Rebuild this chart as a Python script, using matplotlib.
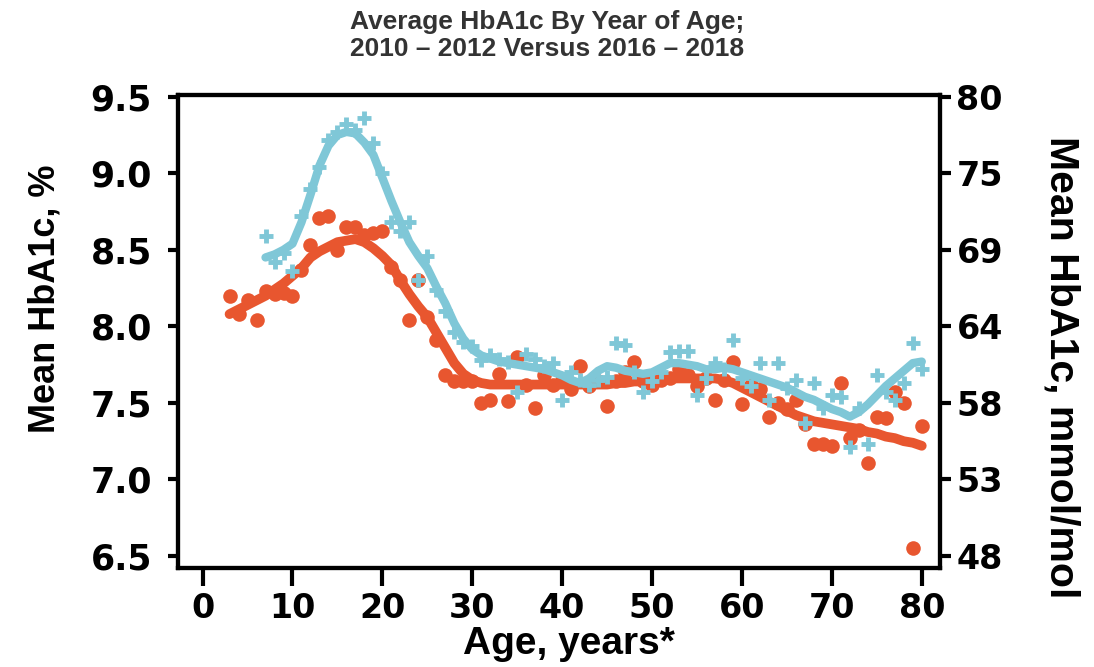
import numpy as np
import matplotlib.pyplot as plt

# Average HbA1c by year of age, two cohorts
red_age = list(range(3, 81))
red_val = [8.20, 8.08, 8.17, 8.04, 8.23, 8.21, 8.22, 8.20, 8.37, 8.53,
           8.71, 8.72, 8.50, 8.65, 8.65, 8.60, 8.61, 8.62, 8.39, 8.30,
           8.04, 8.30, 8.06, 7.91, 7.68, 7.64, 7.64, 7.64, 7.50, 7.52,
           7.69, 7.51, 7.80, 7.62, 7.47, 7.68, 7.62, 7.65, 7.59, 7.74,
           7.61, 7.64, 7.48, 7.64, 7.70, 7.77, 7.64, 7.62, 7.65, 7.66,
           7.72, 7.68, 7.61, 7.66, 7.52, 7.65, 7.77, 7.49, 7.62, 7.59,
           7.41, 7.50, 7.46, 7.52, 7.36, 7.23, 7.23, 7.22, 7.63, 7.27,
           7.32, 7.11, 7.41, 7.40, 7.57, 7.50, 6.55, 7.35]
red_fit = [8.08, 8.11, 8.14, 8.17, 8.20, 8.24, 8.28, 8.33, 8.38, 8.45,
           8.49, 8.52, 8.55, 8.56, 8.57, 8.55, 8.51, 8.46, 8.40, 8.30,
           8.21, 8.13, 8.06, 7.96, 7.86, 7.76, 7.69, 7.65, 7.63, 7.62,
           7.62, 7.62, 7.62, 7.62, 7.62, 7.62, 7.62, 7.62, 7.62, 7.62,
           7.62, 7.62, 7.62, 7.63, 7.63, 7.64, 7.64, 7.65, 7.65, 7.66,
           7.66, 7.66, 7.66, 7.66, 7.66, 7.65, 7.63, 7.60, 7.57, 7.54,
           7.51, 7.48, 7.45, 7.42, 7.40, 7.38, 7.37, 7.36, 7.35, 7.34,
           7.33, 7.31, 7.30, 7.28, 7.27, 7.25, 7.24, 7.22]

blue_age = list(range(7, 81))
blue_val = [8.59, 8.42, 8.48, 8.36, 8.72, 8.90, 9.04, 9.22, 9.27, 9.32,
            9.28, 9.36, 9.20, 9.00, 8.68, 8.62, 8.68, 8.30, 8.46, 8.24,
            8.10, 7.96, 7.90, 7.87, 7.78, 7.81, 7.79, 7.77, 7.57, 7.82,
            7.79, 7.74, 7.76, 7.52, 7.70, 7.65, 7.62, 7.65, 7.67, 7.89,
            7.88, 7.70, 7.57, 7.64, 7.70, 7.83, 7.84, 7.84, 7.55, 7.66,
            7.76, 7.72, 7.91, 7.66, 7.61, 7.76, 7.52, 7.76, 7.60, 7.65,
            7.37, 7.63, 7.47, 7.55, 7.54, 7.21, 7.47, 7.23, 7.68, 7.57,
            7.52, 7.63, 7.89, 7.72]
blue_fit = [8.45, 8.47, 8.50, 8.54, 8.68, 8.86, 9.05, 9.18, 9.25, 9.27,
            9.26, 9.20, 9.12, 8.97, 8.82, 8.68, 8.55, 8.46, 8.38, 8.26,
            8.15, 8.02, 7.92, 7.85, 7.81, 7.79, 7.77, 7.76, 7.75, 7.74,
            7.73, 7.72, 7.70, 7.68, 7.65, 7.63, 7.66, 7.71, 7.74, 7.73,
            7.71, 7.70, 7.69, 7.70, 7.73, 7.76, 7.76, 7.75, 7.74, 7.72,
            7.72, 7.73, 7.72, 7.70, 7.68, 7.66, 7.64, 7.62, 7.60, 7.57,
            7.54, 7.52, 7.49, 7.46, 7.44, 7.41, 7.44, 7.49, 7.55, 7.61,
            7.66, 7.71, 7.76, 7.77]

pct_ticks = [9.5, 9.0, 8.5, 8.0, 7.5, 7.0, 6.5]
mmol_labels = ['80', '75', '69', '64', '58', '53', '48']
x_ticks = [0, 10, 20, 30, 40, 50, 60, 70, 80]

red = '#e8562f'
blue = '#7fc7d7'

fig = plt.figure(figsize=(10.94, 6.67), dpi=100)
ax = fig.add_axes([0.163, 0.148, 0.696, 0.71])

ax.plot(red_age, red_val, 'o', color=red, markersize=10.5, markeredgewidth=0, zorder=2)
ax.plot(red_age, red_fit, '-', color=red, linewidth=7, solid_capstyle='round', zorder=3)
ax.plot(blue_age, blue_fit, '-', color=blue, linewidth=6, solid_capstyle='round', zorder=4)
ax.plot(blue_age, blue_val, '+', color=blue, markersize=10, markeredgewidth=3.5, zorder=5)

ax.set_xlim(-2.7, 82.0)
ax.set_ylim(6.42, 9.513)
ax.set_xticks(x_ticks)
ax.set_yticks(pct_ticks)
ax.set_yticklabels([f'{v:.1f}' for v in pct_ticks])

for s in ax.spines.values():
    s.set_linewidth(3)
ax.tick_params(axis='y', direction='out', length=7, width=3, labelsize=25, pad=12)
ax.tick_params(axis='x', direction='out', length=13, width=3, labelsize=24, pad=4)
for lab in ax.get_xticklabels() + ax.get_yticklabels():
    lab.set_fontweight('bold')

ax2 = ax.twinx()
ax2.set_ylim(ax.get_ylim())
ax2.set_yticks(pct_ticks)
ax2.set_yticklabels(mmol_labels, fontweight='bold')
ax2.tick_params(axis='y', direction='out', length=8, width=3, labelsize=24, pad=4)
for s in ax2.spines.values():
    s.set_linewidth(3)

# axis titles placed as figure text
fig.text(0.52, 0.008, 'Age, years*', ha='center', va='bottom', fontsize=28,
         fontweight='bold', family='Liberation Sans')
fig.text(0.041, 0.552, 'Mean HbA1c, %', ha='center', va='center', rotation=90,
         fontsize=26, fontweight='bold', family='Liberation Sans')
fig.text(0.970, 0.450, 'Mean HbA1c, mmol/mol', ha='center', va='center', rotation=270,
         fontsize=29.5, fontweight='bold', family='Liberation Sans')

fig.text(0.5, 0.985, 'Average HbA1c By Year of Age;\n2010 \u2013 2012 Versus 2016 \u2013 2018',
         ha='center', va='top', fontsize=19, fontweight='bold', family='Liberation Sans',
         color='#333333', linespacing=1.15)

fig.savefig('out.png', dpi=100)
